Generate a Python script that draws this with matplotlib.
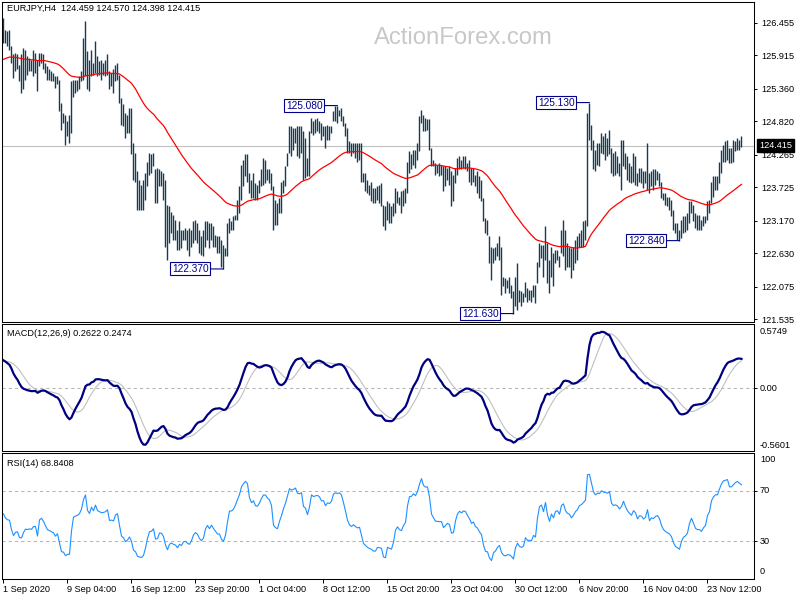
import numpy as np
import pandas as pd
import matplotlib
matplotlib.use("Agg")
import matplotlib.pyplot as plt

plt.rcParams['font.family'] = ['Liberation Sans', 'DejaVu Sans']

# ---------------- data ----------------
SYMBOL_TITLE = "EURJPY,H4  124.459 124.570 124.398 124.415"
MACD_TITLE = "MACD(12,26,9) 0.2622 0.2474"
RSI_TITLE = "RSI(14) 68.8408"
WATERMARK = "ActionForex.com"

HIGHS = [
    126.54,126.34,126.31,126.34,126.07,125.93,125.95,125.93,125.76,125.93,
    126.04,126.01,125.90,125.87,125.84,126.01,125.95,125.84,125.95,125.95,
    125.93,125.79,125.73,125.68,125.65,125.62,125.57,125.57,125.51,125.12,
    124.96,124.93,124.82,124.93,125.48,125.51,125.51,125.51,125.57,125.65,
    126.20,126.48,125.98,125.84,126.01,125.79,126.15,125.90,125.82,125.84,
    125.79,125.84,125.93,125.65,125.62,125.68,125.76,125.79,125.59,125.21,
    125.10,124.96,124.93,125.04,125.04,124.46,124.29,123.99,123.85,123.77,
    123.85,123.96,124.15,124.29,124.27,124.29,124.02,124.04,124.02,123.99,
    123.96,123.85,123.43,123.41,123.32,123.27,123.19,123.02,123.16,123.02,
    123.02,123.05,123.02,123.05,123.02,123.16,123.19,123.13,123.02,
    122.91,123.02,123.16,123.16,123.13,123.13,123.08,122.94,122.91,122.91,
    122.85,122.77,122.72,123.13,123.21,123.16,123.24,123.27,123.52,123.74,
    124.10,124.18,124.27,124.27,123.96,123.85,123.96,123.79,123.77,123.85,
    124.02,124.21,124.18,124.02,124.02,123.96,123.74,123.52,123.46,123.55,
    123.82,123.85,124.07,124.29,124.74,124.74,124.71,124.71,124.74,124.74,
    124.74,124.65,124.54,124.21,124.65,124.87,124.82,124.85,124.87,124.82,
    124.79,124.74,124.74,124.76,124.74,124.74,124.99,125.07,125.08,125.01,
    125.04,124.90,124.79,124.71,124.49,124.46,124.46,124.46,124.46,124.46,
    124.46,123.96,123.96,123.85,123.77,123.82,123.71,123.71,123.74,123.77,
    123.79,123.43,123.41,123.49,123.46,123.41,123.46,123.71,123.66,123.57,
    123.66,123.68,123.71,124.15,124.32,124.27,124.35,124.35,124.46,124.90,
    125.01,124.93,124.87,124.85,124.85,124.38,124.18,124.13,124.10,124.13,
    124.10,124.07,124.07,124.04,124.07,123.99,123.93,124.04,124.21,124.24,
    124.18,124.24,124.24,124.13,124.18,124.04,124.04,123.93,123.99,123.91,
    123.85,123.55,123.21,123.19,122.91,122.74,122.72,122.74,122.80,122.91,
    122.74,122.24,122.22,122.19,122.24,122.11,122.00,122.24,122.47,122.02,
    122.00,121.97,122.16,122.05,122.02,122.02,122.11,122.11,122.49,122.80,
    122.77,122.77,123.08,122.80,122.52,122.74,122.63,122.69,122.69,122.58,
    123.02,123.19,123.02,122.80,122.74,122.72,122.74,122.85,122.91,122.96,
    123.02,123.16,123.19,124.96,125.13,124.76,124.51,124.35,124.46,124.46,
    124.63,124.57,124.63,124.54,124.68,124.38,124.29,124.32,124.24,124.13,
    124.51,124.51,124.29,124.24,124.13,124.07,124.29,124.24,123.96,124.04,
    124.04,123.99,123.99,124.46,123.96,123.99,124.02,124.02,123.99,123.96,
    123.82,123.63,123.63,123.57,123.57,123.52,123.35,123.13,123.13,123.02,
    123.19,123.24,123.24,123.30,123.49,123.49,123.43,123.30,123.27,123.27,
    123.19,123.24,123.24,123.49,123.52,123.82,123.91,123.91,123.91,124.15,
    124.35,124.43,124.49,124.51,124.38,124.38,124.51,124.49,124.54,124.51,
    124.57,
]

LOWS = [
    126.12,126.12,126.07,126.01,125.79,125.54,125.65,125.68,125.48,125.29,
    125.35,125.51,125.59,125.65,125.65,125.57,125.62,125.32,125.73,125.79,
    125.68,125.62,125.51,125.51,125.48,125.48,125.37,125.43,124.99,124.68,
    124.79,124.43,124.57,124.46,124.63,125.23,125.29,125.32,125.35,125.48,
    125.51,125.57,125.35,125.32,125.57,125.59,125.62,125.57,125.59,125.51,
    125.59,125.57,125.59,125.35,125.40,125.29,125.48,125.51,125.12,124.76,
    124.74,124.54,124.63,124.63,124.27,123.85,123.82,123.35,123.35,123.35,
    123.35,123.52,123.74,123.93,123.96,124.07,123.46,123.46,123.74,123.74,
    123.52,122.74,122.52,122.80,122.96,122.85,122.85,122.69,122.69,122.72,
    122.85,122.85,122.69,122.58,122.74,122.80,122.85,122.80,122.63,
    122.60,122.58,122.74,122.85,122.72,122.85,122.74,122.74,122.63,122.63,
    122.41,122.37,122.58,122.58,122.96,123.02,123.02,123.19,123.19,123.30,
    123.52,123.74,123.91,123.82,123.63,123.55,123.55,123.52,123.52,123.63,
    123.74,123.77,123.79,123.85,123.79,123.68,123.02,123.10,123.10,123.30,
    123.30,123.63,123.74,124.07,124.29,124.24,124.35,124.46,124.24,124.21,
    124.29,123.85,123.88,123.91,123.91,124.63,124.60,124.63,124.65,124.63,
    124.51,124.57,124.38,124.51,124.51,124.63,124.82,124.82,124.79,124.90,
    124.82,124.74,124.57,124.29,124.29,124.24,124.29,124.21,124.15,124.18,
    123.82,123.82,123.66,123.63,123.60,123.49,123.46,123.46,123.52,123.46,
    123.41,123.08,123.02,123.19,123.13,123.13,123.24,123.30,123.46,123.43,
    123.30,123.41,123.46,123.63,123.96,124.02,124.10,124.04,124.18,124.32,
    124.79,124.65,124.65,124.68,124.35,124.07,124.07,123.93,123.96,123.91,
    123.93,123.66,123.74,123.85,123.77,123.41,123.49,123.79,123.93,124.02,
    124.02,124.04,124.02,123.99,123.82,123.77,123.82,123.74,123.63,123.55,
    123.49,123.16,122.96,122.94,122.47,122.19,122.47,122.52,122.58,122.52,
    121.94,122.08,121.97,122.05,121.97,121.88,121.63,121.75,121.69,121.83,
    121.75,121.83,121.91,121.83,121.86,121.83,121.91,121.80,122.13,122.41,
    122.55,122.24,122.52,122.13,121.97,122.24,122.08,122.47,122.52,122.41,
    122.63,122.58,122.36,122.41,122.41,122.22,122.36,122.47,122.52,122.74,
    122.74,122.74,122.85,123.08,124.51,124.35,124.02,123.99,124.10,124.07,
    124.29,124.27,124.18,124.24,124.27,123.96,123.91,123.93,123.96,123.91,
    123.68,124.07,124.02,123.85,123.82,123.79,123.82,123.77,123.74,123.82,
    123.79,123.71,123.79,123.68,123.63,123.74,123.68,123.77,123.85,123.74,
    123.55,123.52,123.43,123.41,123.35,123.24,123.02,122.96,122.85,122.84,
    122.88,122.96,122.99,123.02,123.13,123.30,123.16,123.05,123.02,123.02,
    123.02,123.08,123.13,123.19,123.30,123.46,123.57,123.68,123.68,123.79,
    123.96,124.15,124.15,124.18,124.13,124.13,124.15,124.32,124.35,124.35,
    124.40,
]

CLOSES = [
    126.33,126.23,126.19,126.18,125.93,125.74,125.80,125.81,125.62,125.61,
    125.70,125.76,125.75,125.76,125.75,125.79,125.79,125.58,125.84,125.87,
    125.81,125.71,125.62,125.60,125.57,125.55,125.47,125.50,125.25,124.90,
    124.88,124.68,124.70,124.70,125.06,125.37,125.40,125.42,125.46,125.57,
    125.86,126.03,125.67,125.58,125.79,125.69,125.89,125.74,125.71,125.68,
    125.69,125.71,125.76,125.50,125.51,125.49,125.62,125.65,125.36,124.99,
    124.92,124.75,124.78,124.84,124.66,124.16,124.06,123.67,123.60,123.56,
    123.60,123.74,123.95,124.11,124.12,124.18,123.74,123.75,123.88,123.87,
    123.74,123.30,122.98,123.11,123.14,123.06,123.02,122.86,122.93,122.87,
    122.94,122.95,122.86,122.82,122.88,122.98,123.02,122.97,122.83,
    122.76,122.80,122.95,123.01,122.93,122.99,122.91,122.84,122.77,122.77,
    122.63,122.57,122.65,122.86,123.09,123.09,123.13,123.23,123.36,123.52,
    123.81,123.96,124.09,124.05,123.80,123.70,123.76,123.66,123.65,123.74,
    123.88,123.99,123.99,123.94,123.91,123.82,123.38,123.31,123.28,123.43,
    123.56,123.74,123.91,124.18,124.52,124.49,124.53,124.59,124.49,124.48,
    124.52,124.25,124.21,124.06,124.28,124.75,124.71,124.74,124.76,124.73,
    124.65,124.66,124.56,124.64,124.63,124.69,124.91,124.95,124.94,124.96,
    124.93,124.82,124.68,124.50,124.39,124.35,124.38,124.34,124.31,124.32,
    124.14,123.89,123.81,123.74,123.69,123.66,123.59,123.59,123.63,123.62,
    123.60,123.26,123.22,123.34,123.30,123.27,123.35,123.51,123.56,123.50,
    123.48,123.55,123.59,123.89,124.14,124.15,124.23,124.20,124.32,124.61,
    124.90,124.79,124.76,124.77,124.60,124.23,124.13,124.03,124.03,124.02,
    124.02,123.87,123.91,123.95,123.92,123.70,123.71,123.92,124.07,124.13,
    124.10,124.14,124.13,124.06,124.00,123.91,123.93,123.84,123.81,123.73,
    123.67,123.36,123.09,123.07,122.69,122.47,122.60,122.63,122.69,122.72,
    122.34,122.16,122.10,122.12,122.11,122.00,121.82,122.00,122.08,121.93,
    121.88,121.90,122.04,121.94,121.94,121.93,122.01,121.96,122.31,122.61,
    122.66,122.51,122.80,122.47,122.25,122.49,122.36,122.58,122.61,122.50,
    122.83,122.89,122.69,122.61,122.58,122.47,122.55,122.66,122.72,122.85,
    122.88,122.95,123.02,124.80,124.82,124.56,124.27,124.17,124.28,124.27,
    124.46,124.42,124.41,124.39,124.48,124.17,124.10,124.13,124.10,124.02,
    124.10,124.29,124.16,124.05,123.98,123.93,124.06,124.01,123.85,123.93,
    123.92,123.85,123.89,124.07,123.80,123.87,123.85,123.90,123.92,123.85,
    123.69,123.58,123.53,123.49,123.46,123.38,123.19,123.05,122.99,122.93,
    123.04,123.10,123.12,123.16,123.31,123.40,123.30,123.18,123.15,123.15,
    123.11,123.16,123.19,123.34,123.41,123.64,123.74,123.80,123.80,123.97,
    124.16,124.29,124.32,124.35,124.26,124.26,124.33,124.41,124.45,124.43,
    124.415,
]

LAST_PRICE = 124.415
PRICE_TICKS = [121.535, 122.075, 122.630, 123.170, 123.725,
               124.265, 124.820, 125.360, 125.915, 126.455]
MACD_TICKS = [0.5749, 0.0, -0.5601]
MACD_TICK_LABELS = ['0.5749', '0.00', '-0.5601']
RSI_TICKS = [100, 70, 30, 0]
RSI_LEVELS = [70, 30]
LABEL_VALUES = [122.370, 125.080, 121.630, 125.130, 122.840]
LABEL_KIND = ['low', 'high', 'low', 'high', 'low']

# indicator parameters and their levels at the first visible bar
EMA_PERIOD = 55
EMA_SEED = 125.83
MACD_FAST, MACD_SLOW, MACD_SIGNAL = 12, 26, 9
EMA_FAST_SEED = 126.10
EMA_SLOW_SEED = 125.85
SIGNAL_SEED = 0.24
RSI_PERIOD = 14
RSI_GAIN_SEED = 0.062
RSI_LOSS_SEED = 0.058
START_TIME = '2020-09-01 20:00'
LABEL_EVERY = 32

# ---------------- indicators ----------------
h = np.array(HIGHS)
lo = np.array(LOWS)
c = np.array(CLOSES)
n = len(c)
idx = np.arange(n)


def ema(vals, period, seed):
    a = 2.0 / (period + 1)
    out = np.empty(len(vals))
    prev = seed
    for i, v in enumerate(vals):
        prev = prev + a * (v - prev)
        out[i] = prev
    return out


ma = ema(c, EMA_PERIOD, EMA_SEED)
macd = ema(c, MACD_FAST, EMA_FAST_SEED) - ema(c, MACD_SLOW, EMA_SLOW_SEED)
ext = np.concatenate([np.full(MACD_SIGNAL - 1, SIGNAL_SEED), macd])
signal = np.convolve(ext, np.ones(MACD_SIGNAL) / MACD_SIGNAL, mode='valid')

d = np.diff(c, prepend=c[0])
g, l_ = RSI_GAIN_SEED, RSI_LOSS_SEED
rsi = np.empty(n)
for i, x in enumerate(d):
    g = (g * (RSI_PERIOD - 1) + max(x, 0)) / RSI_PERIOD
    l_ = (l_ * (RSI_PERIOD - 1) + max(-x, 0)) / RSI_PERIOD
    rsi[i] = 100 * g / (g + l_)

times = []
t = pd.Timestamp(START_TIME)
while len(times) < n:
    if t.weekday() < 5:
        times.append(t)
    t += pd.Timedelta(hours=4)
tick_pos = list(range(0, n, LABEL_EVERY))
tick_lab = []
for k, p in enumerate(tick_pos):
    tt = times[p]
    if k == 0:
        tick_lab.append(f"{tt.day} {tt:%b %Y}")
    else:
        tick_lab.append(f"{tt.day} {tt:%b %H:%M}")

# ---------------- drawing ----------------
W, H = 800, 600
fig = plt.figure(figsize=(8, 6), dpi=100)
fig.patch.set_facecolor('white')


def axes_px(x0, y0, x1, y1):
    return fig.add_axes([x0 / W, 1 - y1 / H, (x1 - x0) / W, (y1 - y0) / H])


ax1 = axes_px(2, 2, 754, 322)
ax2 = axes_px(2, 324, 754, 451)
ax3 = axes_px(2, 453, 754, 579)

BAR_COLOR = '#173b52'
LABEL_COLOR = '#00008b'
FS = 6.6
XLIM = (-0.75, 375.25)

for ax in (ax1, ax2, ax3):
    ax.set_xlim(*XLIM)
    for s in ax.spines.values():
        s.set_linewidth(0.75)
        s.set_color('black')
    ax.yaxis.tick_right()
    ax.tick_params(axis='y', direction='out', length=2.5, width=0.7,
                   pad=2.5, labelsize=FS, colors='black')
    ax.tick_params(axis='x', bottom=False, labelbottom=False)

# main price panel
ax1.set_ylim(121.490, 126.798)
ax1.vlines(idx, lo, h, color=BAR_COLOR, lw=1.0)
ax1.plot(idx, ma, color='#ff0000', lw=0.9)
ax1.axhline(LAST_PRICE, color='#c0c0c0', lw=0.8, zorder=0)
ax1.set_yticks(PRICE_TICKS)
ax1.set_yticklabels([f"{v:.3f}" for v in PRICE_TICKS])
ax1.text(0.613, 1 - 36 / 320, WATERMARK, transform=ax1.transAxes,
         ha='center', va='center', fontsize=17.2, color='#c8c8c8', zorder=0)
ax1.annotate(f"{LAST_PRICE:.3f}", xy=(1, LAST_PRICE),
             xycoords=ax1.get_yaxis_transform(), xytext=(5, 0),
             textcoords='offset pixels', ha='left', va='center',
             color='white', fontsize=FS,
             bbox=dict(boxstyle='square,pad=0.22', fc='black', ec='black'),
             annotation_clip=False)

for v, kind in zip(LABEL_VALUES, LABEL_KIND):
    arr = lo if kind == 'low' else h
    j = int(np.argmin(np.abs(arr - v)))
    ax1.annotate(f"{v:.3f}", xy=(j, v), xytext=(-15, 0),
                 textcoords='offset pixels', ha='right', va='center',
                 color=LABEL_COLOR, fontsize=7.3,
                 bbox=dict(boxstyle='square,pad=0.15', fc='white',
                           ec=LABEL_COLOR, lw=0.8),
                 arrowprops=dict(arrowstyle='-', color=LABEL_COLOR, lw=0.8,
                                 shrinkA=0, shrinkB=0))

# MACD panel
ax2.set_ylim(MACD_TICKS[2], MACD_TICKS[0])
ax2.axhline(0, color='#b4b4b4', lw=0.75, ls=(0, (3, 3)))
ax2.plot(idx, signal, color='#c0c0c0', lw=0.8)
ax2.plot(idx, macd, color='#000080', lw=1.6)
ax2.set_yticks([0.0])
ax2.set_yticklabels([''])
macd_offsets = [-8, 0, 6]
for v, s, dy in zip(MACD_TICKS, MACD_TICK_LABELS, macd_offsets):
    ax2.annotate(s, xy=(1, v), xycoords=ax2.get_yaxis_transform(),
                 xytext=(6, dy), textcoords='offset pixels', ha='left',
                 va='center', fontsize=FS, annotation_clip=False)

# RSI panel
ax3.set_ylim(0, 100)
for lv in RSI_LEVELS:
    ax3.axhline(lv, color='#b4b4b4', lw=0.75, ls=(0, (3, 3)))
ax3.plot(idx, rsi, color='#1e90ff', lw=0.8)
ax3.set_yticks(RSI_LEVELS)
ax3.set_yticklabels(['', ''])
rsi_offsets = [-7, 0, 0, 7]
for v, dy in zip(RSI_TICKS, rsi_offsets):
    ax3.annotate(str(v), xy=(1, v), xycoords=ax3.get_yaxis_transform(),
                 xytext=(6, dy), textcoords='offset pixels', ha='left',
                 va='center', fontsize=FS, annotation_clip=False)
ax3.set_xticks(tick_pos)
ax3.set_xticklabels(tick_lab)
ax3.tick_params(axis='x', bottom=True, labelbottom=True, direction='out',
                length=3, width=0.7, pad=1.5, labelsize=FS)
for lab in ax3.get_xticklabels():
    lab.set_horizontalalignment('left')

# panel titles
fig.text(7 / W, 1 - 8 / H, SYMBOL_TITLE, ha='left', va='center', fontsize=FS)
fig.text(7 / W, 1 - 334 / H, MACD_TITLE, ha='left', va='center', fontsize=FS)
fig.text(7 / W, 1 - 463 / H, RSI_TITLE, ha='left', va='center', fontsize=FS)

fig.savefig('out.png', dpi=100)
